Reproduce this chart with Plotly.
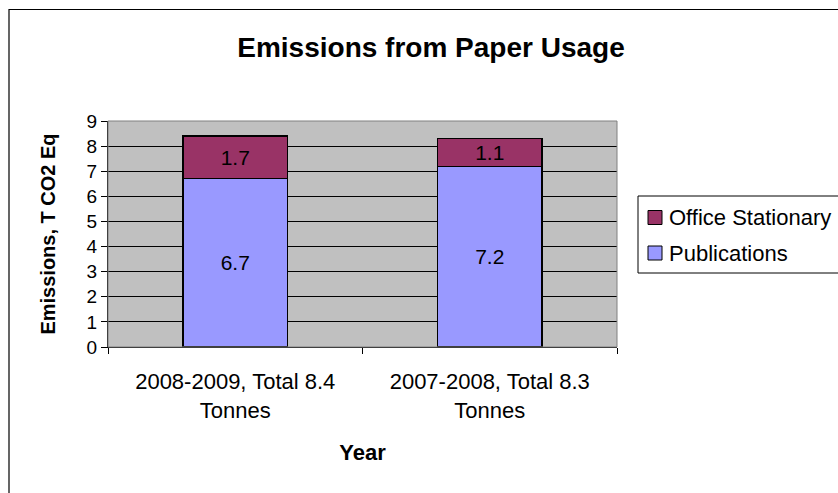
import plotly.graph_objects as go

# Paper usage emissions by reporting year (tonnes CO2 equivalent)
categories = ["2008-2009, Total 8.4<br>Tonnes", "2007-2008, Total 8.3<br>Tonnes"]
publications = [6.7, 7.2]
office_stationary = [1.7, 1.1]

FONT = "Liberation Sans, Arial, sans-serif"
PUB_COLOR = "#9999FF"
OFFICE_COLOR = "#993366"

fig = go.Figure()
fig.add_trace(go.Bar(
    x=categories, y=publications, name="Publications",
    marker=dict(color=PUB_COLOR, line=dict(color="black", width=1.3)),
    text=[f"{v:.1f}" for v in publications], textposition="inside",
    insidetextanchor="middle", textfont=dict(size=21, color="black", family=FONT),
    width=0.41, showlegend=False,
))
fig.add_trace(go.Bar(
    x=categories, y=office_stationary, name="Office Stationary",
    marker=dict(color=OFFICE_COLOR, line=dict(color="black", width=1.3)),
    text=[f"{v:.1f}" for v in office_stationary], textposition="inside",
    insidetextanchor="middle", textfont=dict(size=21, color="black", family=FONT),
    width=0.41, showlegend=False,
))

L, R, T, B = 108, 221, 121, 146
W, H = 838, 493
pw, ph = W - L - R, H - T - B

def px(x):
    return (x - L) / pw

def py(y):
    return 1 - (y - T) / ph

def prect(x0, y0, x1, y1, **kw):
    return dict(type="rect", xref="paper", yref="paper",
                x0=px(x0), x1=px(x1), y0=py(y0), y1=py(y1), **kw)

shapes = [
    # outer chart border
    prect(9, 9.5, 850, 520, line=dict(color="black", width=1.2),
          fillcolor="rgba(0,0,0,0)", layer="below"),
    # plot area frame
    dict(type="rect", xref="paper", yref="paper", x0=0, x1=1, y0=0, y1=1,
         line=dict(color="#808080", width=1), fillcolor="rgba(0,0,0,0)", layer="above"),
    # legend box
    prect(638, 196, 850, 273, line=dict(color="black", width=1),
          fillcolor="white", layer="above"),
]
annotations = []
legend_items = [("Office Stationary", OFFICE_COLOR, 217.5), ("Publications", PUB_COLOR, 253)]
for label, color, yc in legend_items:
    shapes.append(prect(648, yc - 7, 662, yc + 7, line=dict(color="black", width=1),
                        fillcolor=color, layer="above"))
    annotations.append(dict(text=label, xref="paper", yref="paper", x=px(667), y=py(yc),
                            xanchor="left", yanchor="middle", showarrow=False,
                            font=dict(size=22, family=FONT, color="black")))

fig.update_layout(
    width=W, height=H,
    margin=dict(l=L, r=R, t=T, b=B, autoexpand=False),
    barmode="stack",
    paper_bgcolor="white",
    plot_bgcolor="#C0C0C0",
    font=dict(family=FONT, size=21, color="black"),
    title=dict(text="<b>Emissions from Paper Usage</b>", x=px(431), xref="paper",
               xanchor="center", y=1 - 47 / H, yanchor="middle",
               font=dict(size=28, family=FONT)),
    showlegend=False,
    uniformtext=dict(mode="show", minsize=21),
    shapes=shapes,
    annotations=annotations,
)
fig.update_xaxes(
    showgrid=False, showline=True, linecolor="black", linewidth=1,
    ticks="outside", tickson="boundaries", ticklen=6, tickcolor="black",
    tickfont=dict(size=22), ticklabelstandoff=15,
    title=dict(text="<b>Year</b>", font=dict(size=22), standoff=22),
)
fig.update_yaxes(
    range=[0, 9], dtick=1, showgrid=True, gridcolor="black", gridwidth=1,
    showline=True, linecolor="black", linewidth=1, ticks="outside", ticklen=6,
    tickcolor="black", tickfont=dict(size=19), zeroline=False,
    title=dict(text="<b>Emissions, T CO2 Eq</b>", font=dict(size=20), standoff=25),
)

fig.write_html("out.html")
